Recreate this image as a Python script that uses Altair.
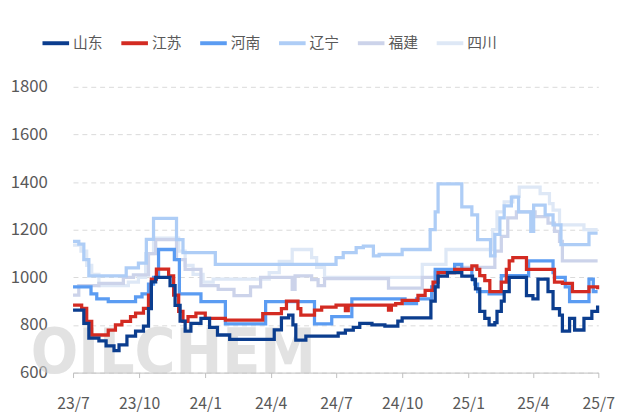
import altair as alt
import pandas as pd

series = ["山东", "江苏", "河南", "辽宁", "福建", "四川"]
colors = ["#0B3D8E", "#D32B22", "#5B9CF2", "#AECDF6", "#CCD3EA", "#DEE8F6"]

sd_dates = ["2023-07-01","2023-07-16","2023-07-23","2023-08-06","2023-08-16","2023-08-27","2023-09-03","2023-09-14","2023-09-26","2023-10-07","2023-10-14","2023-10-18","2023-10-24","2023-11-13","2023-11-20","2023-11-27","2023-12-04","2023-12-12","2023-12-26","2024-01-07","2024-01-18","2024-02-04","2024-04-06","2024-04-16","2024-04-26","2024-05-02","2024-05-06","2024-05-20","2024-07-04","2024-07-14","2024-07-25","2024-08-03","2024-08-20","2024-09-07","2024-09-25","2024-10-01","2024-11-10","2024-11-16","2024-11-20","2024-12-03","2024-12-23","2025-01-07","2025-01-11","2025-01-17","2025-01-24","2025-01-30","2025-02-07","2025-02-10","2025-02-16","2025-02-20","2025-02-27","2025-03-23","2025-04-01","2025-04-08","2025-04-22","2025-04-29","2025-05-08","2025-05-12","2025-05-22","2025-05-29","2025-06-11","2025-06-22","2025-06-30"]
sd_vals = [862,807,745,733,712,692,717,753,774,795,869,981,1000,965,882,816,774,807,828,790,758,740,780,830,841,800,737,753,766,778,790,807,800,795,816,830,900,960,1005,1020,1005,990,952,857,828,800,810,857,900,940,1000,923,910,993,940,869,841,774,828,779,828,857,882]

js_dates = ["2023-07-01","2023-07-13","2023-07-20","2023-07-27","2023-08-19","2023-08-29","2023-09-07","2023-09-19","2023-09-26","2023-10-07","2023-10-14","2023-10-18","2023-10-25","2023-11-11","2023-11-18","2023-11-25","2023-12-01","2023-12-08","2023-12-19","2024-01-01","2024-01-29","2024-03-21","2024-04-16","2024-04-23","2024-05-09","2024-05-13","2024-06-01","2024-06-11","2024-07-01","2024-07-14","2024-07-18","2024-09-12","2024-09-16","2024-09-22","2024-10-01","2024-10-23","2024-11-02","2024-11-13","2024-11-20","2024-12-13","2025-01-06","2025-01-13","2025-01-17","2025-01-24","2025-01-31","2025-02-16","2025-02-23","2025-02-27","2025-03-04","2025-03-23","2025-05-01","2025-05-12","2025-05-26","2025-06-18","2025-06-30"]
js_vals = [883,870,815,758,778,800,815,835,850,870,925,993,1035,1006,925,857,815,835,850,828,820,848,869,900,869,841,862,875,883,860,883,862,883,890,903,924,945,980,1020,1034,1048,1034,1007,986,940,980,1034,1069,1083,1034,980,975,940,960,950]

hn_dates = ["2023-07-01","2023-07-26","2023-08-03","2023-08-19","2023-09-26","2023-10-05","2023-10-14","2023-10-21","2023-10-28","2023-11-19","2023-11-26","2023-12-26","2024-01-29","2024-03-25","2024-06-01","2024-06-25","2024-07-23","2024-10-05","2024-10-21","2024-11-11","2024-11-16","2024-12-13","2024-12-23","2025-01-06","2025-01-10","2025-01-14","2025-01-30","2025-02-16","2025-03-26","2025-04-29","2025-05-01","2025-05-16","2025-05-22","2025-06-18","2025-06-24","2025-06-30"]
hn_vals = [960,931,910,898,918,931,972,1000,1117,1075,931,898,805,898,805,835,910,890,910,960,1034,1055,1034,993,972,940,931,1007,1069,1020,1000,960,898,993,940,940]

ln_dates = ["2023-07-01","2023-07-09","2023-07-16","2023-07-23","2023-09-13","2023-09-30","2023-10-11","2023-10-21","2023-11-22","2023-12-01","2024-01-15","2024-07-01","2024-07-11","2024-07-29","2024-08-08","2024-08-22","2024-08-30","2024-10-01","2024-11-09","2024-11-16","2024-11-20","2024-12-23","2025-01-06","2025-01-14","2025-02-01","2025-02-07","2025-02-14","2025-02-20","2025-03-02","2025-03-12","2025-03-29","2025-04-02","2025-04-18","2025-04-29","2025-05-10","2025-06-18","2025-06-30"]
ln_vals = [1151,1140,1075,1006,1040,1060,1160,1248,1158,1104,1055,1083,1104,1125,1131,1090,1096,1117,1200,1275,1393,1296,1262,1158,1090,1180,1250,1300,1337,1275,1193,1303,1262,1220,1137,1186,1186]

fj_dates = ["2023-07-01","2023-07-09","2023-08-06","2023-09-09","2023-09-23","2023-10-14","2023-10-24","2023-11-22","2023-12-04","2023-12-26","2024-01-19","2024-02-10","2024-03-04","2024-03-18","2024-05-01","2024-05-05","2024-05-28","2024-06-06","2024-06-15","2024-09-12","2024-10-29","2024-11-16","2024-12-13","2025-02-07","2025-02-16","2025-02-25","2025-03-09","2025-04-04","2025-04-22","2025-05-01","2025-05-08","2025-05-12","2025-06-30"]
fj_vals = [925,965,975,1000,1010,1100,1158,1075,1034,965,950,923,960,1000,950,1006,990,965,995,955,1000,1020,1042,1110,1172,1250,1275,1255,1228,1193,1151,1069,1069]

sc_dates = ["2023-07-01","2023-07-12","2023-07-20","2023-07-27","2023-08-06","2023-09-16","2023-09-30","2023-10-10","2023-10-21","2023-11-25","2023-12-04","2023-12-15","2023-12-29","2024-01-12","2024-03-30","2024-04-13","2024-05-01","2024-05-28","2024-06-04","2024-06-15","2024-10-29","2024-12-01","2025-02-04","2025-02-10","2025-02-20","2025-03-04","2025-03-13","2025-04-11","2025-04-24","2025-04-29","2025-05-08","2025-06-11","2025-06-30"]
sc_vals = [1135,1110,1050,1013,965,980,1000,1100,1165,1110,1050,1013,980,993,1020,1067,1117,1083,1042,1000,1055,1117,1200,1275,1317,1340,1379,1352,1310,1282,1220,1200,1200]

x_tick_dates = [(2023, 7), (2023, 10), (2024, 1), (2024, 4), (2024, 7), (2024, 10), (2025, 1), (2025, 4), (2025, 7)]
y_ticks = [600, 800, 1000, 1200, 1400, 1600, 1800]

all_dates = [sd_dates, js_dates, hn_dates, ln_dates, fj_dates, sc_dates]
all_vals = [sd_vals, js_vals, hn_vals, ln_vals, fj_vals, sc_vals]

rows = []
# draw the pale series first so darker ones sit on top
for name, ds, vs in reversed(list(zip(series, all_dates, all_vals))):
    for d, v in zip(ds, vs):
        rows.append({"date": d, "price": v, "region": name})
df = pd.DataFrame(rows)

FONT = "Noto Sans CJK SC"
LABEL = "#595959"

x_vals = [alt.DateTime(year=y, month=m, date=1, utc=True) for y, m in x_tick_dates]

lines = alt.Chart(df).mark_line(interpolate="step-after", strokeWidth=3.3).encode(
    x=alt.X("date:T",
            scale=alt.Scale(type="utc",
                            domain=[alt.DateTime(year=2023, month=7, date=1, utc=True),
                                    alt.DateTime(year=2025, month=7, date=1, utc=True)]),
            axis=alt.Axis(values=x_vals, labelExpr="utcFormat(datum.value, '%y/%-m')",
                          title=None, grid=False, domainColor="#BFBFBF", tickColor="#BFBFBF",
                          tickSize=5, labelPadding=18, labelFontSize=16, labelColor=LABEL,
                          labelFont=FONT, labelFlush=False, labelOverlap=False)),
    y=alt.Y("price:Q", scale=alt.Scale(domain=[600, 1800], nice=False),
            axis=alt.Axis(values=y_ticks, format="d", title=None, domain=False, ticks=False,
                          labelPadding=26, labelFontSize=17, labelColor=LABEL, labelFont=FONT,
                          gridColor="#D9D9D9", gridDash=[5, 4], gridWidth=1)),
    color=alt.Color("region:N", sort=series,
                    scale=alt.Scale(domain=series, range=colors),
                    legend=alt.Legend(title=None, orient="none", direction="horizontal",
                                      legendX=-33, legendY=-60, symbolType="stroke",
                                      symbolStrokeWidth=4, symbolSize=729,
                                      labelFontSize=15, labelColor=LABEL, labelFont=FONT,
                                      labelOffset=2, columnPadding=10)),
)

wm = alt.Chart(pd.DataFrame({"t": ["OILCHEM"]})).mark_text(
    align="left", baseline="alphabetic", fontSize=63,
    font="'Liberation Sans Narrow', 'DejaVu Sans Condensed', Roboto", fontWeight="bold",
    color="#CFCFCF", opacity=0.6
).encode(x=alt.value(-43), y=alt.value(290), text="t:N")

chart = alt.layer(wm, lines).properties(
    width=533, height=290,
    autosize=alt.AutoSizeParams(type="none"),
    padding={"left": 66, "top": 77, "right": 22, "bottom": 40},
).configure_view(stroke=None)

chart.save("out.html", embed_options={"renderer": "svg", "actions": False})
